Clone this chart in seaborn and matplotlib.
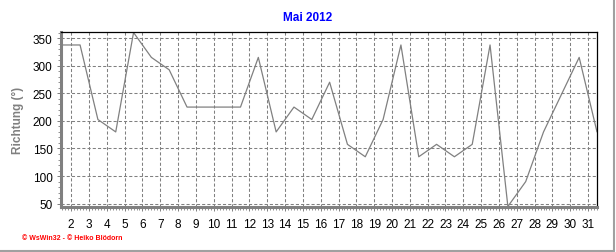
import matplotlib
matplotlib.use("Agg")
import matplotlib.pyplot as plt
import seaborn as sns
import pandas as pd
import numpy as np
from matplotlib.ticker import MultipleLocator
from matplotlib.lines import Line2D

# Data: wind direction (degrees), daily values plotted at mid-day
days = [1.5, 2.5, 3.5, 4.5, 5.5, 6.5, 7.5, 8.5, 9.5, 10.5, 11.5, 12.5, 13.5, 14.5,
        15.5, 16.5, 17.5, 18.5, 19.5, 20.5, 21.5, 22.5, 23.5, 24.5, 25.5, 26.5,
        27.5, 28.5, 29.5, 30.5, 31.5]
direction = [337.5, 337.5, 202.5, 180, 360, 315, 292.5, 225, 225, 225, 225, 315, 180, 225,
             202.5, 270, 157.5, 135, 202.5, 337.5, 135, 157.5, 135, 157.5, 337.5, 45,
             90, 180, 247.5, 315, 180]
x_ticks = list(range(2, 32))
y_ticks = [50, 100, 150, 200, 250, 300, 350]
title = "Mai 2012"
y_label = "Richtung (°)"
footer = "© WsWin32 - © Heiko Blödorn"

df = pd.DataFrame({"Tag": days, "Richtung": direction})

sns.set_theme(style="ticks")
plt.rcParams['font.family'] = ['Liberation Sans', 'DejaVu Sans']

fig = plt.figure(figsize=(6.16, 2.53), dpi=100)
ax = fig.add_axes([61/616, 1-208/253, (597-61)/616, (208-33)/253])

sns.lineplot(data=df, x="Tag", y="Richtung", ax=ax, color="#808080", linewidth=0.9)

ax.set_xlim(1.43, 31.5)
ax.set_ylim(44, 361)
ax.set_xticks(x_ticks)
ax.set_xticklabels([str(t) for t in x_ticks])
ax.set_yticks(y_ticks)
ax.xaxis.set_minor_locator(MultipleLocator(1/6))
ax.yaxis.set_minor_locator(MultipleLocator(10))

ax.grid(True, which="major", color="#808080", linestyle=(0, (3, 2)), linewidth=0.75)
ax.set_axisbelow(True)

for side in ["left", "bottom"]:
    ax.spines[side].set_color("#808080")
    ax.spines[side].set_linewidth(2.2)
for side in ["top", "right"]:
    ax.spines[side].set_color("black")
    ax.spines[side].set_linewidth(0.9)
    ax.spines[side].set_visible(True)

ax.tick_params(axis="both", which="major", labelsize=8.5, colors="black", length=3,
               width=0.7, pad=3)
ax.tick_params(axis="both", which="major", color="#808080")
ax.tick_params(axis="both", which="minor", length=2, width=0.6, color="#808080")
ax.tick_params(axis="x", which="major", pad=5)

ax.set_xlabel("")
ax.set_ylabel(y_label, color="#808080", fontsize=8.5, fontweight="bold", labelpad=6)

fig.text(308/616, 1-18/253, title, color="#0000FF", fontsize=8.5, fontweight="bold",
         ha="center", va="center")
fig.text(22/616, 1-239/253, footer, color="red", fontsize=5, fontweight="bold",
         ha="left", va="center")

# outer frame lines (right & bottom)
fig.add_artist(Line2D([0, 613.5/616], [1.5/253, 1.5/253], transform=fig.transFigure,
                      color="#a0a0a0", linewidth=1.5))
fig.add_artist(Line2D([613.5/616, 613.5/616], [1.5/253, 1], transform=fig.transFigure,
                      color="#a0a0a0", linewidth=1.5))

fig.savefig("out.png", dpi=100, facecolor="white")
